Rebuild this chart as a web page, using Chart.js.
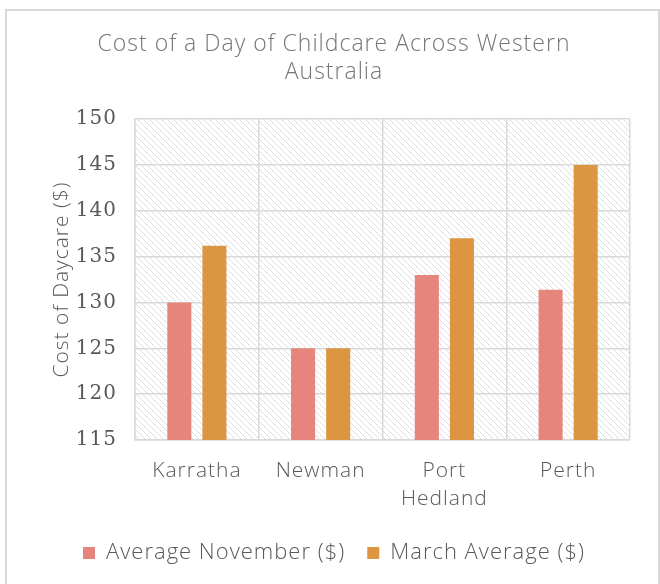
<!DOCTYPE html>
<html>
<head>
<meta charset="utf-8">
<script src="https://cdn.jsdelivr.net/npm/chart.js@4.4.1/dist/chart.umd.min.js"></script>
<style>
html,body{margin:0;padding:0;background:#fff;}
#wrap{position:absolute;left:0;top:0;width:660px;height:584px;}
</style>
</head>
<body>
<div id="wrap"><canvas id="c" width="660" height="584"></canvas></div>
<script>
const categories = ['Karratha', 'Newman', ['Port', 'Hedland'], 'Perth'];
const seriesNames = ['Average November ($)', 'March Average ($)'];
const novemberValues = [130, 125, 133, 131.4];
const marchValues = [136.2, 125, 137, 145];
const yTicks = [115, 120, 125, 130, 135, 140, 145, 150];

const textColor = '#595959';
const gridColor = '#d9d9d9';
const sans = '"Open Sans", Lato, sans-serif';

function makePattern() {
  const p = document.createElement('canvas');
  p.width = 6; p.height = 6;
  const g = p.getContext('2d');
  g.fillStyle = '#ffffff';
  g.fillRect(0, 0, 6, 6);
  for (let i = 0; i < 6; i++) {
    g.fillStyle = (i % 2 === 0) ? '#d6d6d6' : '#e6e6e6';
    g.fillRect(i, i, 1, 1);
  }
  return p;
}

const spacingPlugin = {
  id: 'spacing',
  beforeLayout(chart) { chart.ctx.letterSpacing = '1px'; },
  beforeDraw(chart) { chart.ctx.letterSpacing = '1px'; }
};

const bgPlugin = {
  id: 'bg',
  beforeDraw(chart) {
    const ctx = chart.ctx;
    ctx.save();
    ctx.fillStyle = '#fff';
    ctx.fillRect(0, 0, chart.width, chart.height);
    ctx.strokeStyle = '#d9d9d9';
    ctx.lineWidth = 2;
    ctx.strokeRect(6, 10, 653, 590);
    const a = chart.chartArea;
    const pat = ctx.createPattern(makePattern(), 'repeat');
    ctx.fillStyle = pat;
    ctx.fillRect(a.left, a.top, a.right - a.left, a.bottom - a.top);
    ctx.restore();
  }
};

new Chart(document.getElementById('c'), {
  type: 'bar',
  data: {
    labels: categories,
    datasets: [
      { label: seriesNames[0], data: novemberValues, backgroundColor: '#e6857b', barPercentage: 0.686, categoryPercentage: 0.567 },
      { label: seriesNames[1], data: marchValues, backgroundColor: '#dc9642', barPercentage: 0.686, categoryPercentage: 0.567 }
    ]
  },
  options: {
    responsive: false,
    animation: false,
    devicePixelRatio: 1,
    layout: { padding: { left: 38, right: 30, top: 30, bottom: 10 } },
    plugins: {
      title: {
        display: true,
        text: ['Cost of a Day of Childcare Across Western', 'Australia'],
        color: '#767676',
        font: { family: sans, size: 23, weight: 300, lineHeight: 1.22 },
        padding: { top: 0, bottom: 33 }
      },
      legend: {
        position: 'bottom',
        labels: {
          color: textColor,
          font: { family: sans, size: 22, weight: 300 },
          boxWidth: 12, boxHeight: 12, padding: 22
        }
      },
      tooltip: { enabled: false }
    },
    scales: {
      x: {
        grid: { color: gridColor, lineWidth: 1.5, drawTicks: false, offset: true },
        border: { color: gridColor, width: 1.5 },
        ticks: { color: textColor, font: { family: sans, size: 21, weight: 300, lineHeight: 1.33 }, padding: 17, maxRotation: 0, autoSkip: false },
        afterFit(s) { s.height = 80; }
      },
      y: {
        min: 115, max: 150,
        afterBuildTicks(s) { s.ticks = yTicks.map(v => ({ value: v })); },
        grid: { color: gridColor, lineWidth: 1.5, drawTicks: false },
        border: { color: gridColor, width: 1.5 },
        ticks: { color: textColor, font: { family: 'DejaVu Serif', size: 20 }, padding: 18 },
        title: { display: true, text: 'Cost of Daycare ($)', color: textColor, font: { family: sans, size: 21, weight: 300 }, padding: { top: 11, bottom: 4 } },
        afterFit(s) { s.width = 97; }
      }
    }
  },
  plugins: [spacingPlugin, bgPlugin]
});
</script>
</body>
</html>
